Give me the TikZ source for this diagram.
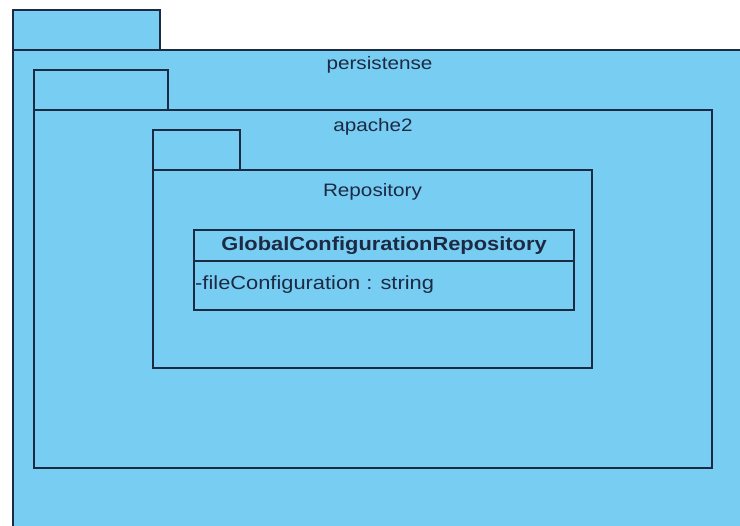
\documentclass[tikz,border=0pt]{standalone}
\usepackage{fontspec}
\setmainfont[FakeStretch=1.15]{Liberation Sans}
\usepackage{xcolor}
\usetikzlibrary{positioning}
\definecolor{pkgfill}{RGB}{120,205,242}
\definecolor{pkgline}{RGB}{28,42,68}

\begin{document}
\begin{tikzpicture}[x=1pt, y=-1pt, every node/.style={font=\fontsize{18}{21}\selectfont,text=pkgline},
  pkgbody/.style={draw=pkgline,fill=pkgfill,line width=1.4pt,anchor=north west,outer sep=0pt,inner sep=0pt},
  pkgtab/.style={pkgbody,minimum height=40pt},
  pkgname/.style={anchor=base,inner sep=0pt},
  clsbox/.style={draw=pkgline,fill=pkgfill,line width=1.4pt,outer sep=0pt,inner sep=0pt,minimum width=380pt,
    font=\fontsize{19}{22}\selectfont}]
\useasboundingbox (0,0) rectangle (740,526);
\clip (0,0) rectangle (740,526);
% persistense package, runs off the page
\node[pkgbody,minimum width=733pt,minimum height=482pt] (pers) at (13,50) {};
\node[pkgtab,minimum width=147pt,above right=0pt and 0pt of pers.north west] (persTab) {};
\node[pkgname] (persName) at ([yshift=-20pt]pers.north) {persistense};
% apache2
\node[pkgbody,minimum width=678pt,minimum height=358pt] (apache) at (34,110) {};
\node[pkgtab,minimum width=134pt,above right=0pt and 0pt of apache.north west] (apacheTab) {};
\node[pkgname] (apacheName) at ([yshift=-21.5pt]apache.north) {apache2};
% Repository
\node[pkgbody,minimum width=439pt,minimum height=198pt] (repo) at (153,170) {};
\node[pkgtab,minimum width=87pt,above right=0pt and 0pt of repo.north west] (repoTab) {};
\node[pkgname] (repoName) at ([yshift=-27pt]repo.north) {Repository};
% class
\node[clsbox,minimum height=31pt,anchor=north west] (cls) at (194,230) {\textbf{GlobalConfigurationRepository}};
\node[clsbox,minimum height=49pt,below=0pt of cls] (clsBody) {};
\node[anchor=base west,inner sep=0pt,font=\fontsize{19}{22}\selectfont] (clsAttr) at ([xshift=1pt,yshift=-29pt]clsBody.north west) {-fileConfiguration : string};
\end{tikzpicture}
\end{document}
